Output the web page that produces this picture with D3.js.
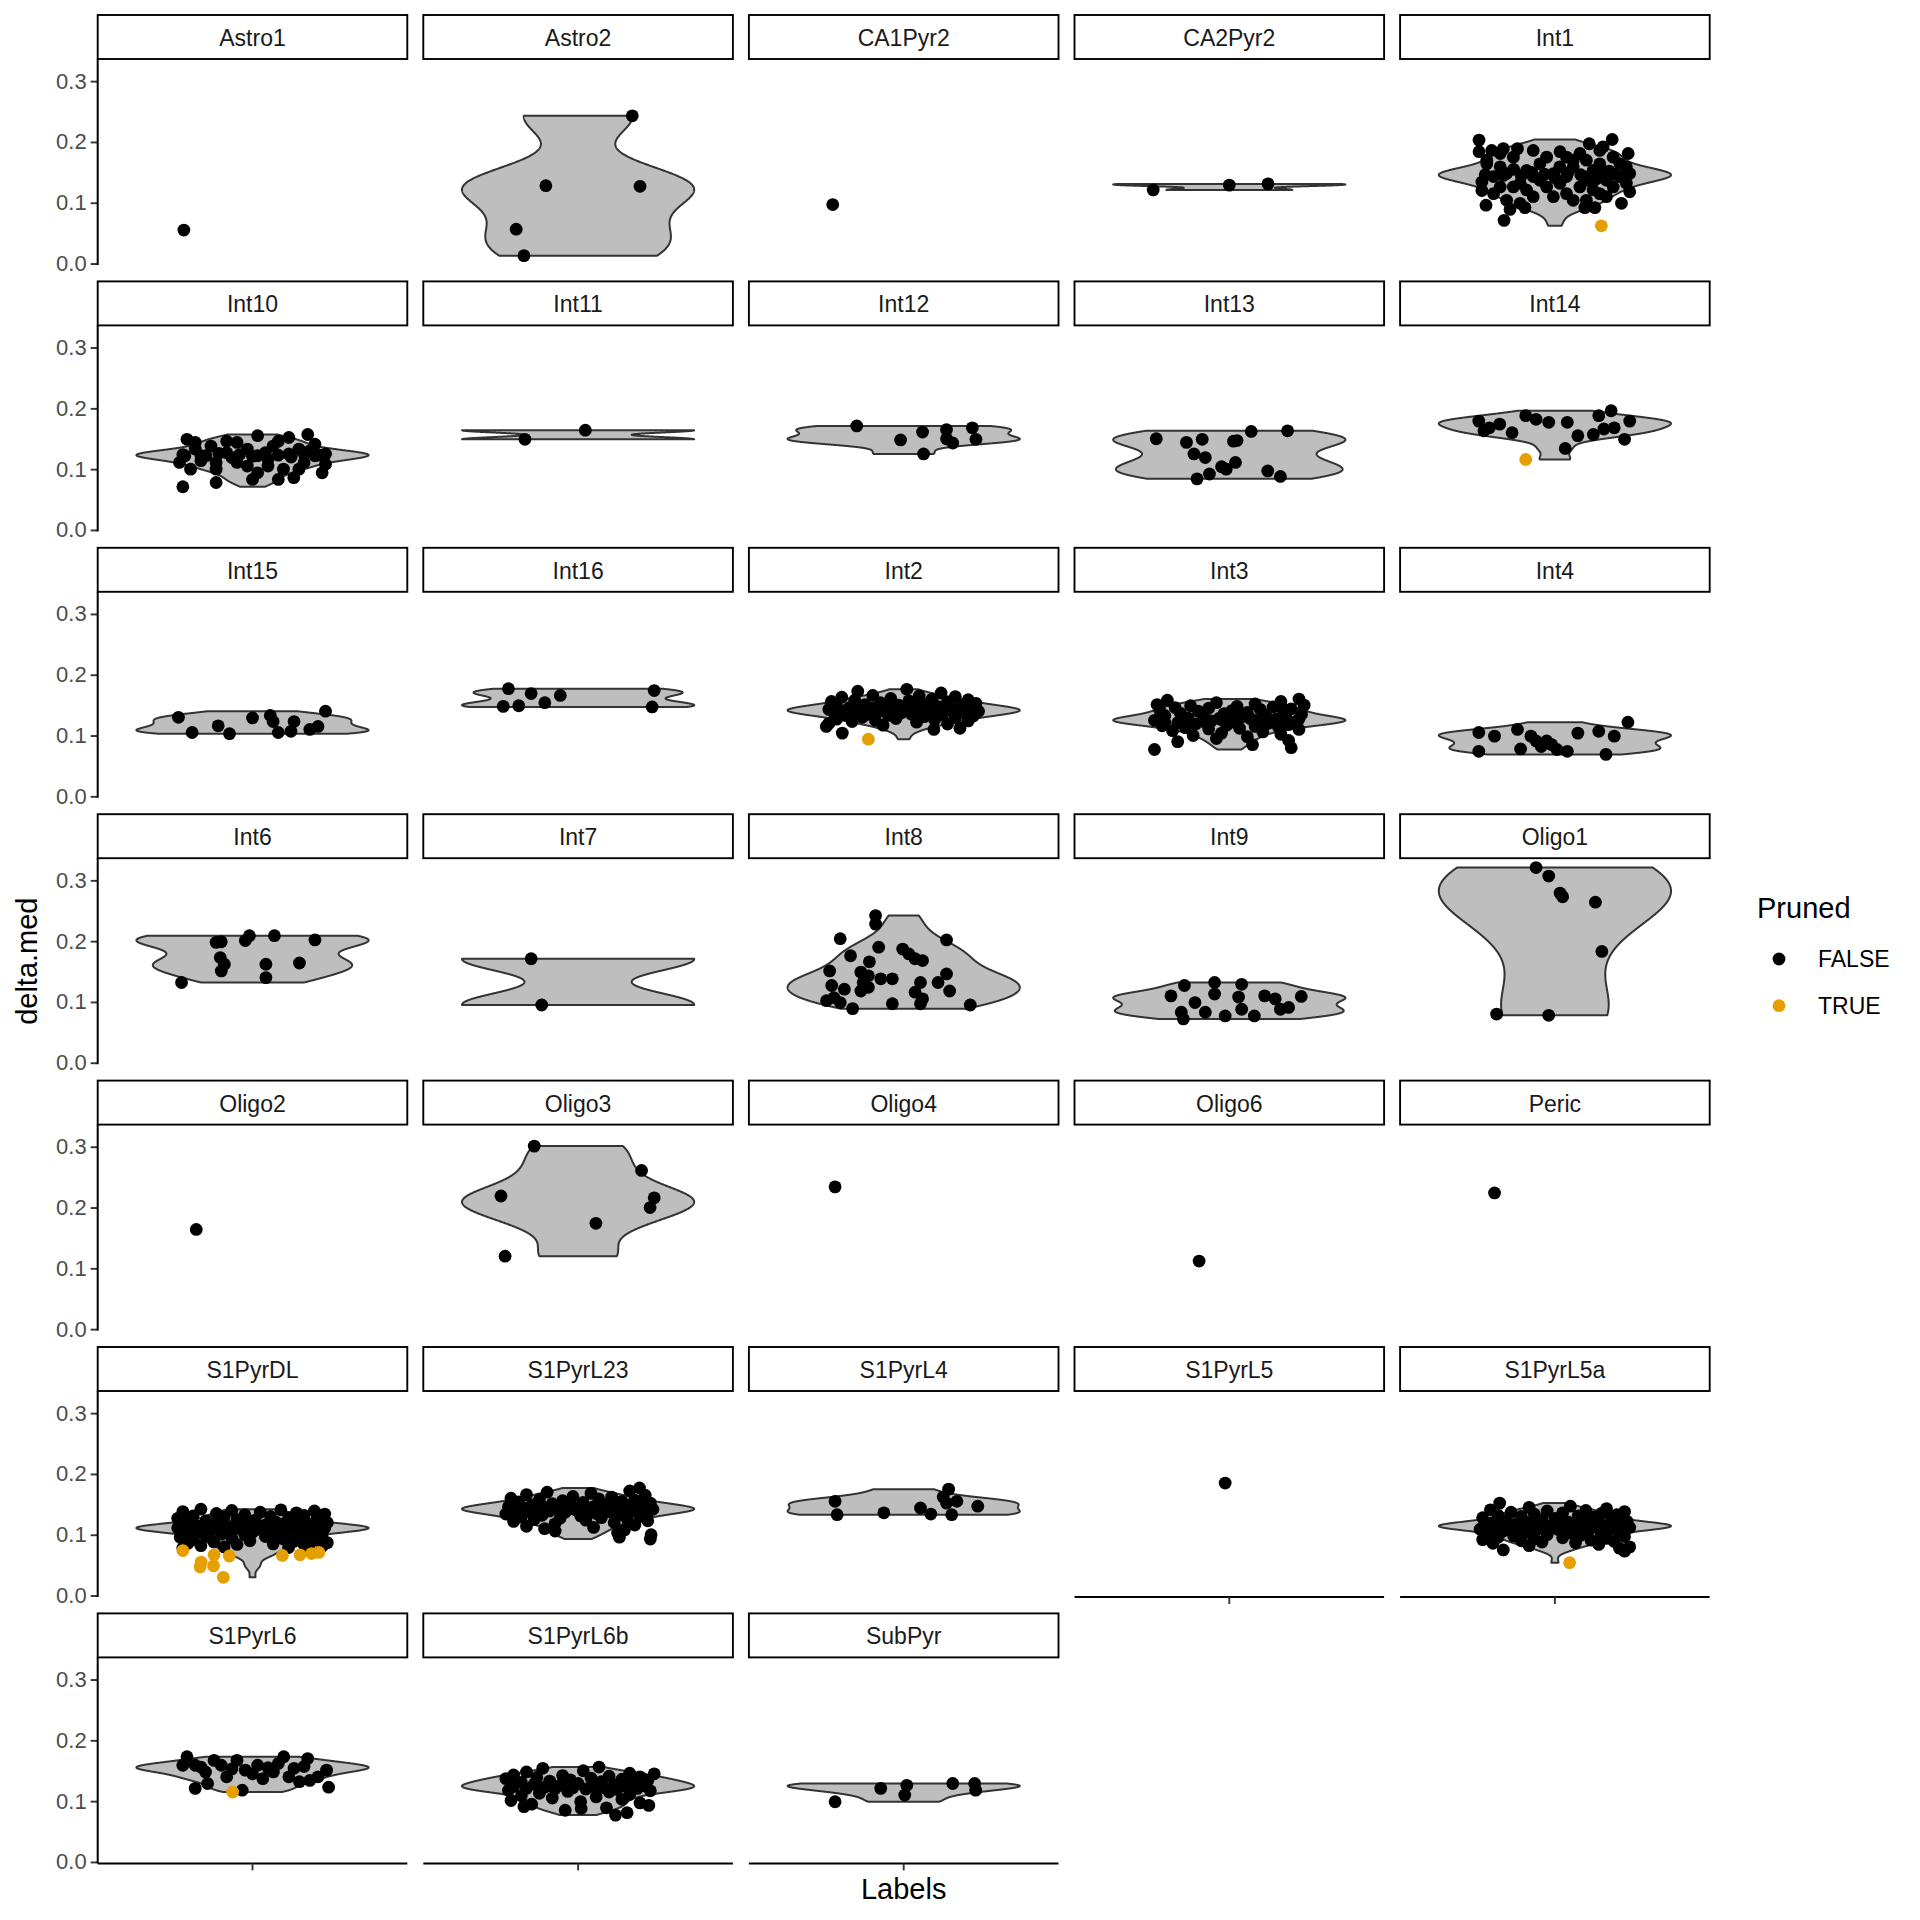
<!DOCTYPE html>
<html>
<head>
<meta charset="utf-8">
<script src="https://cdn.jsdelivr.net/npm/d3@7"></script>
<style>
  body { margin: 0; background: #fff; }
  text { font-family: "Liberation Sans", Arial, sans-serif; }
</style>
</head>
<body>
<div id="chart"></div>
<script>
// facet order (Labels)
const labels = ["Astro1", "Astro2", "CA1Pyr2", "CA2Pyr2", "Int1",
  "Int10", "Int11", "Int12", "Int13", "Int14",
  "Int15", "Int16", "Int2", "Int3", "Int4",
  "Int6", "Int7", "Int8", "Int9", "Oligo1",
  "Oligo2", "Oligo3", "Oligo4", "Oligo6", "Peric",
  "S1PyrDL", "S1PyrL23", "S1PyrL4", "S1PyrL5", "S1PyrL5a",
  "S1PyrL6", "S1PyrL6b", "SubPyr"];

// each cell: [delta.med, jitter offset, pruned (1 = TRUE)]
const Astro1 = [[0.055, -0.266]];
const Astro2 = [[0.243, 0.21], [0.128, -0.125], [0.127, 0.24], [0.0565, -0.24], [0.013, -0.21]];
const CA1Pyr2 = [[0.097, -0.275]];
const CA2Pyr2 = [[0.121, -0.295], [0.129, 0.0], [0.131, 0.15]];
const Int1 = [[0.203, -0.294], [0.184, -0.294], [0.186, -0.245], [0.189, -0.2], [0.189, -0.145], [0.186, -0.084],
  [0.184, 0.02], [0.197, 0.133], [0.204, 0.222], [0.192, 0.187], [0.181, 0.284], [0.164, 0.252], [0.148, 0.29],
  [0.118, 0.29], [0.099, 0.258], [0.092, 0.155], [0.092, 0.116], [0.092, -0.116], [0.089, -0.174], [0.071, -0.197],
  [0.096, -0.267], [0.12, -0.283], [0.134, -0.283], [0.164, -0.264], [0.159, -0.212], [0.137, -0.058], [0.126, -0.032],
  [0.143, 0.045], [0.126, 0.097], [0.153, 0.148], [0.137, 0.2], [0.126, -0.161], [0.153, -0.11], [0.164, -0.058],
  [0.17, 0.071], [0.159, 0.019], [0.17, 0.122], [0.115, 0.174], [0.126, 0.226], [0.126, -0.212], [0.143, -0.238],
  [0.11, -0.084], [0.11, -0.006], [0.104, 0.071], [0.104, 0.122], [0.175, 0.045], [0.175, -0.032], [0.175, -0.161],
  [0.175, 0.226], [0.143, 0.251], [0.181, -0.212], [0.17, -0.264], [0.148, -0.187], [0.132, -0.135], [0.115, -0.238],
  [0.121, -0.11], [0.148, -0.006], [0.132, 0.019], [0.159, 0.071], [0.137, 0.122], [0.115, 0.045], [0.164, 0.174],
  [0.148, 0.2], [0.121, 0.148], [0.181, 0.097], [0.186, 0.174], [0.104, -0.187], [0.11, 0.2], [0.143, -0.084],
  [0.159, 0.277], [0.132, 0.277], [0.099, -0.135], [0.147, -0.04], [0.146, 0.1], [0.148, 0.16], [0.145, -0.2],
  [0.147, 0.23], [0.144, -0.13], [0.149, 0.05], [0.146, -0.27], [0.15, -0.09], [0.145, 0.27], [0.141, 0.0],
  [0.152, 0.21], [0.139, 0.16], [0.155, -0.16], [0.143, 0.13], [0.062, 0.18, 1]];
const Int10 = [[0.071, -0.27], [0.149, -0.254], [0.155, 0.02], [0.157, 0.214], [0.152, 0.141], [0.146, -0.1],
  [0.133, -0.222], [0.111, -0.283], [0.078, -0.141], [0.083, 0.0], [0.083, 0.1], [0.086, 0.16], [0.094, 0.27],
  [0.108, 0.283], [0.122, 0.242], [0.1, -0.141], [0.111, -0.06], [0.116, 0.06], [0.133, 0.18], [0.122, -0.18],
  [0.133, -0.02], [0.138, 0.08], [0.127, -0.1], [0.1, -0.24], [0.1, 0.12], [0.111, 0.2], [0.094, 0.02], [0.144, -0.222],
  [0.144, -0.06], [0.146, 0.1], [0.141, 0.242], [0.111, -0.141], [0.122, 0.02], [0.125, 0.141], [0.114, -0.2],
  [0.119, -0.08], [0.105, -0.02], [0.1, 0.18], [0.138, -0.161], [0.13, 0.222], [0.122, -0.262], [0.105, 0.06],
  [0.125, 0.283], [0.124, -0.05], [0.123, 0.1], [0.122, -0.2], [0.125, 0.2], [0.121, 0.0], [0.126, -0.13],
  [0.123, 0.26], [0.12, 0.15], [0.127, 0.05], [0.124, -0.27]];
const Int11 = [[0.164, 0.028], [0.149, -0.206]];
const Int12 = [[0.171, -0.182], [0.148, -0.012], [0.161, 0.073], [0.165, 0.166], [0.143, 0.19], [0.168, 0.266],
  [0.149, 0.28], [0.125, 0.077], [0.15, 0.166]];
const Int13 = [[0.15, -0.283], [0.144, -0.166], [0.149, -0.105], [0.146, 0.016], [0.162, 0.085], [0.163, 0.226],
  [0.125, -0.137], [0.119, -0.093], [0.111, 0.024], [0.1, -0.012], [0.092, -0.077], [0.084, -0.125], [0.097, 0.149],
  [0.088, 0.198], [0.147, 0.03], [0.104, -0.03]];
const Int14 = [[0.179, -0.295], [0.168, -0.254], [0.174, -0.214], [0.16, -0.166], [0.188, -0.113], [0.182, -0.073],
  [0.177, -0.024], [0.177, 0.048], [0.155, 0.089], [0.157, 0.149], [0.188, 0.17], [0.196, 0.218], [0.168, 0.23],
  [0.179, 0.29], [0.149, 0.27], [0.134, 0.04], [0.166, 0.19], [0.163, -0.275], [0.116, -0.113, 1]];
const Int15 = [[0.13, -0.287], [0.105, -0.234], [0.116, -0.133], [0.103, -0.089], [0.129, 0.0], [0.133, 0.069],
  [0.105, 0.1], [0.107, 0.149], [0.123, 0.161], [0.11, 0.222], [0.115, 0.254], [0.14, 0.283], [0.123, 0.08]];
const Int16 = [[0.177, -0.27], [0.148, -0.29], [0.149, -0.23], [0.169, -0.182], [0.154, -0.129], [0.166, -0.069],
  [0.174, 0.295], [0.147, 0.287]];
const Int2 = [[0.176, 0.012], [0.173, -0.178], [0.17, 0.145], [0.166, -0.12], [0.165, 0.06], [0.164, 0.2],
  [0.163, -0.24], [0.161, -0.05], [0.16, 0.11], [0.159, 0.25], [0.158, -0.19], [0.157, 0.02], [0.156, -0.28],
  [0.155, 0.17], [0.154, -0.09], [0.153, 0.28], [0.152, 0.08], [0.151, -0.15], [0.15, -0.02], [0.15, 0.22],
  [0.149, -0.26], [0.148, 0.13], [0.148, -0.07], [0.147, 0.04], [0.146, -0.21], [0.146, 0.26], [0.145, 0.18],
  [0.145, -0.12], [0.144, 0.0], [0.144, 0.09], [0.143, -0.29], [0.143, -0.17], [0.142, 0.23], [0.142, 0.14],
  [0.141, -0.04], [0.141, -0.23], [0.14, 0.06], [0.14, 0.29], [0.139, -0.1], [0.139, 0.19], [0.138, -0.19],
  [0.138, 0.1], [0.137, -0.01], [0.137, -0.27], [0.136, 0.24], [0.135, -0.14], [0.135, 0.03], [0.134, 0.15],
  [0.133, -0.06], [0.133, -0.22], [0.132, 0.27], [0.131, 0.08], [0.13, -0.16], [0.129, 0.2], [0.128, -0.03],
  [0.127, -0.26], [0.126, 0.12], [0.125, -0.11], [0.124, 0.25], [0.123, -0.2], [0.122, 0.05], [0.12, -0.29],
  [0.119, 0.17], [0.117, -0.08], [0.115, -0.3], [0.112, 0.218], [0.11, 0.117], [0.104, -0.238], [0.094, -0.137, 1]];
const Int3 = [[0.16, 0.27], [0.158, -0.24], [0.156, 0.2], [0.154, -0.05], [0.152, 0.1], [0.151, -0.28], [0.15, 0.29],
  [0.149, -0.15], [0.148, 0.03], [0.147, 0.17], [0.146, -0.21], [0.145, -0.08], [0.144, 0.24], [0.143, 0.12],
  [0.142, -0.27], [0.141, 0.01], [0.14, -0.12], [0.139, 0.21], [0.138, 0.07], [0.137, -0.19], [0.136, -0.02],
  [0.135, 0.28], [0.134, 0.14], [0.133, -0.25], [0.132, -0.1], [0.131, 0.05], [0.13, 0.22], [0.129, -0.16],
  [0.128, -0.04], [0.127, 0.18], [0.126, 0.09], [0.125, -0.29], [0.124, -0.07], [0.123, 0.26], [0.122, 0.02],
  [0.121, -0.2], [0.12, 0.15], [0.119, -0.13], [0.118, 0.23], [0.117, -0.01], [0.116, -0.26], [0.115, 0.1],
  [0.114, 0.19], [0.113, -0.17], [0.112, 0.04], [0.111, -0.08], [0.11, 0.27], [0.108, -0.22], [0.106, 0.13],
  [0.104, -0.03], [0.102, 0.2], [0.1, -0.14], [0.098, 0.07], [0.095, -0.05], [0.092, 0.23], [0.09, -0.2],
  [0.085, 0.09], [0.08, 0.24], [0.077, -0.29], [0.125, 0.0], [0.126, -0.18], [0.124, 0.16], [0.127, 0.27],
  [0.123, -0.1], [0.128, 0.08], [0.122, -0.25], [0.125, 0.2], [0.126, -0.03], [0.124, 0.11]];
const Int4 = [[0.105, -0.295], [0.074, -0.295], [0.099, -0.234], [0.11, -0.145], [0.078, -0.133], [0.099, -0.093],
  [0.082, -0.053], [0.091, -0.032], [0.077, 0.008], [0.074, 0.048], [0.104, 0.089], [0.107, 0.17], [0.069, 0.198],
  [0.099, 0.23], [0.122, 0.283], [0.091, -0.073], [0.085, -0.012]];
const Int6 = [[0.132, -0.275], [0.198, -0.141], [0.199, -0.121], [0.201, -0.028], [0.209, -0.012], [0.209, 0.085],
  [0.202, 0.242], [0.173, -0.125], [0.162, -0.109], [0.151, -0.121], [0.162, 0.052], [0.14, 0.052], [0.164, 0.182]];
const Int7 = [[0.171, -0.182], [0.095, -0.141]];
const Int8 = [[0.242, -0.109], [0.228, -0.109], [0.204, -0.246], [0.202, 0.166], [0.176, -0.206], [0.19, -0.097],
  [0.187, -0.004], [0.179, 0.02], [0.171, 0.044], [0.168, 0.073], [0.166, -0.133], [0.151, -0.287], [0.149, -0.166],
  [0.143, -0.137], [0.138, -0.089], [0.138, -0.044], [0.132, -0.157], [0.146, 0.166], [0.132, 0.133], [0.132, 0.065],
  [0.127, -0.279], [0.121, -0.23], [0.118, -0.166], [0.124, -0.137], [0.116, 0.044], [0.118, 0.178], [0.105, 0.073],
  [0.102, -0.299], [0.099, -0.246], [0.089, -0.198], [0.097, -0.044], [0.097, 0.065], [0.095, 0.258], [0.107, -0.27]];
const Int9 = [[0.127, -0.174], [0.132, -0.057], [0.129, 0.048], [0.11, -0.226], [0.099, -0.133], [0.113, -0.057],
  [0.108, 0.036], [0.11, 0.137], [0.105, 0.178], [0.091, 0.23], [0.109, 0.279], [0.083, -0.186], [0.072, -0.178],
  [0.083, -0.093], [0.077, -0.016], [0.088, 0.048], [0.077, 0.097], [0.088, 0.198]];
const Oligo1 = [[0.321, -0.073], [0.307, -0.024], [0.279, 0.02], [0.273, 0.03], [0.264, 0.157], [0.183, 0.182],
  [0.08, -0.226], [0.078, -0.024]];
const Oligo2 = [[0.164, -0.218]];
const Oligo3 = [[0.301, -0.17], [0.261, 0.246], [0.219, -0.299], [0.216, 0.295], [0.2, 0.279], [0.174, 0.069],
  [0.12, -0.283]];
const Oligo4 = [[0.234, -0.266]];
const Oligo6 = [[0.112, -0.117]];
const Peric = [[0.224, -0.234]];
const S1PyrDL = [[0.142, -0.2], [0.141, 0.11], [0.14, -0.08], [0.139, 0.24], [0.138, -0.27], [0.137, 0.03],
  [0.136, 0.17], [0.135, -0.14], [0.134, 0.28], [0.133, -0.03], [0.132, 0.2], [0.131, -0.23], [0.13, 0.07],
  [0.129, -0.11], [0.128, 0.14], [0.127, -0.29], [0.126, 0.25], [0.125, -0.06], [0.124, 0.01], [0.123, -0.18],
  [0.122, 0.18], [0.121, 0.09], [0.12, -0.25], [0.12, 0.29], [0.119, -0.02], [0.118, 0.12], [0.118, -0.15],
  [0.117, 0.22], [0.116, -0.28], [0.116, 0.05], [0.115, -0.1], [0.115, 0.16], [0.114, -0.21], [0.114, 0.27],
  [0.114, 0.0], [0.113, -0.05], [0.113, 0.1], [0.113, -0.17], [0.113, 0.2], [0.112, -0.26], [0.112, 0.04],
  [0.112, 0.13], [0.112, -0.12], [0.112, 0.24], [0.112, -0.01], [0.111, -0.19], [0.111, 0.08], [0.111, 0.17],
  [0.111, -0.29], [0.111, 0.28], [0.11, -0.07], [0.11, 0.11], [0.11, -0.23], [0.11, 0.22], [0.109, 0.02],
  [0.109, -0.14], [0.109, 0.15], [0.108, -0.04], [0.108, 0.26], [0.108, -0.27], [0.107, 0.06], [0.107, -0.16],
  [0.106, 0.19], [0.106, -0.09], [0.105, 0.23], [0.104, -0.21], [0.104, 0.0], [0.103, 0.13], [0.102, -0.26],
  [0.102, 0.09], [0.101, -0.12], [0.1, 0.27], [0.1, -0.03], [0.099, 0.18], [0.098, -0.18], [0.097, 0.05],
  [0.096, -0.28], [0.095, 0.21], [0.094, -0.08], [0.093, 0.12], [0.092, -0.23], [0.091, 0.25], [0.09, -0.01],
  [0.089, 0.16], [0.088, -0.15], [0.087, 0.29], [0.086, -0.25], [0.085, 0.08], [0.084, -0.06], [0.083, 0.2],
  [0.082, -0.2], [0.081, 0.27], [0.08, -0.11], [0.079, 0.14], [0.078, -0.27], [0.077, 0.22],
  [0.074, -0.27, 1], [0.055, -0.199, 1], [0.047, -0.203, 1], [0.067, -0.149, 1], [0.049, -0.151, 1],
  [0.065, -0.09, 1], [0.03, -0.113, 1], [0.066, 0.116, 1], [0.067, 0.184, 1], [0.069, 0.229, 1], [0.071, 0.257, 1]];
const S1PyrL23 = [[0.177, 0.238], [0.172, 0.2], [0.17, -0.12], [0.168, 0.05], [0.166, -0.2], [0.165, 0.26],
  [0.163, -0.02], [0.162, 0.13], [0.16, -0.26], [0.159, 0.08], [0.158, -0.15], [0.157, 0.22], [0.156, -0.06],
  [0.155, 0.17], [0.154, -0.23], [0.153, 0.02], [0.152, 0.28], [0.151, -0.1], [0.15, 0.11], [0.149, -0.18],
  [0.148, 0.19], [0.148, -0.03], [0.147, 0.25], [0.146, -0.27], [0.146, 0.06], [0.145, -0.13], [0.145, 0.15],
  [0.144, -0.21], [0.144, 0.0], [0.143, 0.23], [0.143, -0.08], [0.142, 0.1], [0.142, -0.16], [0.142, 0.29],
  [0.141, -0.01], [0.141, 0.17], [0.14, -0.24], [0.14, 0.04], [0.139, -0.11], [0.139, 0.21], [0.138, 0.12],
  [0.138, -0.19], [0.137, -0.05], [0.136, 0.27], [0.135, 0.07], [0.134, -0.28], [0.133, 0.16], [0.132, -0.14],
  [0.131, 0.01], [0.13, 0.24], [0.129, -0.22], [0.128, 0.09], [0.127, -0.07], [0.126, 0.19], [0.125, -0.17],
  [0.124, 0.03], [0.123, 0.27], [0.122, -0.25], [0.12, 0.14], [0.118, -0.09], [0.116, 0.22], [0.114, -0.2],
  [0.112, 0.06], [0.11, -0.13], [0.108, 0.18], [0.106, -0.089], [0.103, 0.153], [0.1, 0.283], [0.096, 0.16],
  [0.093, 0.28]];
const S1PyrL4 = [[0.155, -0.266], [0.133, -0.258], [0.136, -0.077], [0.144, 0.065], [0.134, 0.105], [0.175, 0.174],
  [0.162, 0.153], [0.133, 0.186], [0.155, 0.206], [0.147, 0.287], [0.152, 0.166]];
const S1PyrL5 = [[0.185, -0.016]];
const S1PyrL5a = [[0.152, -0.214], [0.147, 0.06], [0.145, -0.1], [0.143, 0.2], [0.141, -0.25], [0.14, 0.12],
  [0.139, -0.03], [0.138, 0.27], [0.137, -0.17], [0.136, 0.03], [0.135, 0.18], [0.134, -0.08], [0.133, 0.24],
  [0.132, -0.22], [0.131, 0.09], [0.13, -0.13], [0.129, 0.15], [0.128, -0.28], [0.127, 0.0], [0.126, 0.22],
  [0.125, -0.05], [0.124, 0.11], [0.123, -0.19], [0.122, 0.28], [0.121, 0.05], [0.12, -0.1], [0.12, 0.17],
  [0.119, -0.25], [0.118, 0.02], [0.118, -0.15], [0.117, 0.21], [0.117, -0.06], [0.117, 0.1], [0.116, -0.22],
  [0.116, 0.26], [0.116, -0.01], [0.115, 0.14], [0.115, -0.12], [0.115, 0.07], [0.115, -0.27], [0.115, 0.19],
  [0.114, -0.04], [0.114, 0.24], [0.114, -0.18], [0.113, 0.04], [0.113, 0.12], [0.113, -0.09], [0.112, 0.29],
  [0.112, -0.24], [0.112, 0.16], [0.111, -0.02], [0.111, 0.08], [0.11, -0.14], [0.11, 0.22], [0.109, -0.29],
  [0.109, 0.01], [0.108, -0.07], [0.107, 0.13], [0.106, -0.2], [0.105, 0.25], [0.104, -0.11], [0.103, 0.06],
  [0.102, -0.26], [0.101, 0.18], [0.1, -0.03], [0.099, 0.1], [0.098, -0.16], [0.097, 0.27], [0.096, -0.22],
  [0.095, 0.03], [0.094, 0.2], [0.093, -0.08], [0.092, -0.28], [0.091, 0.14], [0.09, -0.13], [0.089, 0.23],
  [0.088, -0.05], [0.087, 0.08], [0.086, -0.24], [0.084, 0.17], [0.082, -0.1], [0.08, 0.29], [0.078, 0.25],
  [0.075, -0.2], [0.073, 0.27], [0.054, 0.057, 1]];
const S1PyrL6 = [[0.173, -0.254], [0.167, -0.149], [0.167, -0.06], [0.173, 0.121], [0.17, 0.214], [0.121, -0.222],
  [0.123, 0.295], [0.151, 0.287], [0.134, 0.222], [0.148, 0.081], [0.145, 0.0], [0.14, -0.1], [0.148, -0.182],
  [0.159, -0.222], [0.159, 0.02], [0.154, 0.161], [0.118, -0.04], [0.129, -0.174], [0.132, 0.182], [0.14, 0.254],
  [0.159, -0.121], [0.162, 0.1], [0.151, -0.028], [0.137, 0.04], [0.14, 0.141], [0.159, -0.27], [0.156, -0.2],
  [0.155, 0.06], [0.157, 0.2], [0.153, -0.08], [0.115, -0.077, 1]];
const S1PyrL6b = [[0.156, 0.081], [0.154, -0.137], [0.15, 0.02], [0.148, -0.2], [0.146, 0.2], [0.145, 0.295],
  [0.143, -0.25], [0.142, -0.06], [0.141, 0.12], [0.14, 0.24], [0.139, -0.16], [0.138, 0.05], [0.137, -0.28],
  [0.136, 0.17], [0.135, -0.03], [0.134, 0.27], [0.133, -0.11], [0.132, 0.09], [0.131, -0.22], [0.13, 0.21],
  [0.129, 0.0], [0.128, -0.17], [0.127, 0.14], [0.126, -0.07], [0.125, 0.26], [0.124, -0.25], [0.124, 0.06],
  [0.123, -0.13], [0.123, 0.19], [0.122, -0.02], [0.122, 0.1], [0.121, -0.2], [0.121, 0.23], [0.12, -0.09],
  [0.12, 0.03], [0.119, 0.15], [0.118, -0.27], [0.117, 0.28], [0.116, -0.04], [0.115, 0.12], [0.113, -0.15],
  [0.111, 0.2], [0.109, -0.22], [0.107, 0.07], [0.105, -0.1], [0.103, 0.17], [0.101, -0.26], [0.099, 0.01],
  [0.097, 0.24], [0.095, -0.18], [0.093, 0.274], [0.091, -0.21], [0.089, 0.11], [0.088, 0.012], [0.085, -0.05],
  [0.081, 0.19], [0.077, 0.145]];
const SubPyr = [[0.099, -0.266], [0.121, -0.089], [0.126, 0.012], [0.11, 0.004], [0.129, 0.19], [0.129, 0.275],
  [0.118, 0.279]];

const cells = { Astro1, Astro2, CA1Pyr2, CA2Pyr2, Int1, Int10, Int11, Int12, Int13, Int14, Int15, Int16, Int2,
  Int3, Int4, Int6, Int7, Int8, Int9, Oligo1, Oligo2, Oligo3, Oligo4, Oligo6, Peric, S1PyrDL, S1PyrL23, S1PyrL4,
  S1PyrL5, S1PyrL5a, S1PyrL6, S1PyrL6b, SubPyr };

const yTicks = [0, 0.1, 0.2, 0.3];
const prunedLevels = ["FALSE", "TRUE"];
const prunedColors = ["#000000", "#E69F00"];

// ---- layout ----
const width = 1920, height = 1920;
const ncol = 5;
const colX0 = 97.7, colStep = 325.6, panelW = 309.6;
const rowTop0 = 15, rowStep = 266.4, stripH = 44, panelH = 206;

const svg = d3.select("#chart").append("svg")
  .attr("width", width).attr("height", height)
  .style("background", "#fff");

// shared y scale (fixed scales), 5% expansion like ggplot
const allVals = labels.flatMap(l => cells[l].map(d => d[0]));
const [ymin, ymax] = d3.extent(allVals);
const pad = (ymax - ymin) * 0.05;
const y = d3.scaleLinear().domain([ymin - pad, ymax + pad]).range([panelH, 0]);
// discrete x with a single level at 1, expanded by 0.6
const x = d3.scaleLinear().domain([0.4, 1.6]).range([0, panelW]);
const color = d3.scaleOrdinal().domain([0, 1]).range(prunedColors);

// gaussian kde with bw.nrd0, trimmed to data range
function bwNrd0(v) {
  const s = d3.deviation(v);
  const sorted = v.slice().sort(d3.ascending);
  const iqr = d3.quantileSorted(sorted, 0.75) - d3.quantileSorted(sorted, 0.25);
  let lo = Math.min(s, iqr / 1.34);
  if (!(lo > 0)) lo = s || 1;
  return 0.9 * lo * Math.pow(v.length, -0.2);
}
function violin(v) {
  const bw = bwNrd0(v);
  const [lo, hi] = d3.extent(v);
  const n = 512;
  const grid = d3.range(n).map(i => lo + (hi - lo) * i / (n - 1));
  const dens = grid.map(g => d3.sum(v, xi => Math.exp(-0.5 * ((g - xi) / bw) ** 2)));
  const m = d3.max(dens);
  return grid.map((g, i) => ({ y: g, w: 0.45 * dens[i] / m }));
}

labels.forEach((lab, i) => {
  const r = Math.floor(i / ncol), c = i % ncol;
  const px = colX0 + c * colStep;
  const top = rowTop0 + r * rowStep;
  const g = svg.append("g").attr("transform", `translate(${px},${top + stripH})`);
  const pts = cells[lab];

  // strip
  svg.append("rect")
    .attr("x", px).attr("y", top).attr("width", panelW).attr("height", stripH)
    .attr("fill", "#fff").attr("stroke", "#000").attr("stroke-width", 1.9);
  svg.append("text")
    .attr("x", px + panelW / 2).attr("y", top + stripH / 2 + 1)
    .attr("text-anchor", "middle").attr("dominant-baseline", "central")
    .attr("font-size", 23).attr("fill", "#1A1A1A")
    .text(lab);

  // violin
  if (pts.length >= 2) {
    const dv = violin(pts.map(d => d[0]));
    const outline = dv.map(d => [x(1 - d.w), y(d.y)])
      .concat(dv.slice().reverse().map(d => [x(1 + d.w), y(d.y)]));
    g.append("path")
      .attr("d", d3.line()(outline) + "Z")
      .attr("fill", "#BEBEBE")
      .attr("stroke", "#333333")
      .attr("stroke-width", 2)
      .attr("stroke-linejoin", "round");
  }

  // jittered points
  g.selectAll("circle.pt").data(pts).join("circle")
    .attr("class", "pt")
    .attr("cx", d => x(1 + d[1]))
    .attr("cy", d => y(d[0]))
    .attr("r", 6.4)
    .attr("fill", d => color(d[2] ? 1 : 0));

  // y axis on first column
  if (c === 0) {
    const ya = g.append("g").call(d3.axisLeft(y).tickValues(yTicks).tickFormat(d3.format(".1f")).tickSize(7).tickPadding(4));
    ya.select(".domain").remove();
    ya.selectAll(".tick line").attr("stroke", "#333333").attr("stroke-width", 1.9);
    ya.selectAll(".tick text").attr("font-size", 22).attr("fill", "#4D4D4D")
      .attr("font-family", "Liberation Sans, Arial, sans-serif");
    g.append("line").attr("x1", 0).attr("x2", 0).attr("y1", 0).attr("y2", panelH)
      .attr("stroke", "#000").attr("stroke-width", 2);
  }
  // x axis where no panel below
  if (i + ncol >= labels.length) {
    g.append("line").attr("x1", 0).attr("x2", panelW).attr("y1", panelH).attr("y2", panelH)
      .attr("stroke", "#000").attr("stroke-width", 2);
    g.append("line").attr("x1", x(1)).attr("x2", x(1)).attr("y1", panelH).attr("y2", panelH + 7)
      .attr("stroke", "#333333").attr("stroke-width", 1.9);
  }
});

// axis titles
svg.append("text")
  .attr("x", colX0 + ((ncol - 1) * colStep + panelW) / 2).attr("y", 1899)
  .attr("text-anchor", "middle").attr("font-size", 29).attr("fill", "#000")
  .text("Labels");
svg.append("text")
  .attr("transform", `translate(37,${(rowTop0 + stripH + 6 * rowStep + rowTop0 + stripH + panelH) / 2}) rotate(-90)`)
  .attr("text-anchor", "middle").attr("font-size", 29).attr("fill", "#000")
  .text("delta.med");

// legend
const lg = svg.append("g").attr("transform", "translate(1757,0)");
lg.append("text").attr("x", 0).attr("y", 918).attr("font-size", 29).attr("fill", "#000").text("Pruned");
prunedLevels.forEach((lv, k) => {
  const cy = 959 + k * 46.7;
  lg.append("circle").attr("cx", 22).attr("cy", cy).attr("r", 6.4).attr("fill", prunedColors[k]);
  lg.append("text").attr("x", 61).attr("y", cy).attr("dominant-baseline", "central")
    .attr("font-size", 23).attr("fill", "#000").text(lv);
});
</script>
</body>
</html>
